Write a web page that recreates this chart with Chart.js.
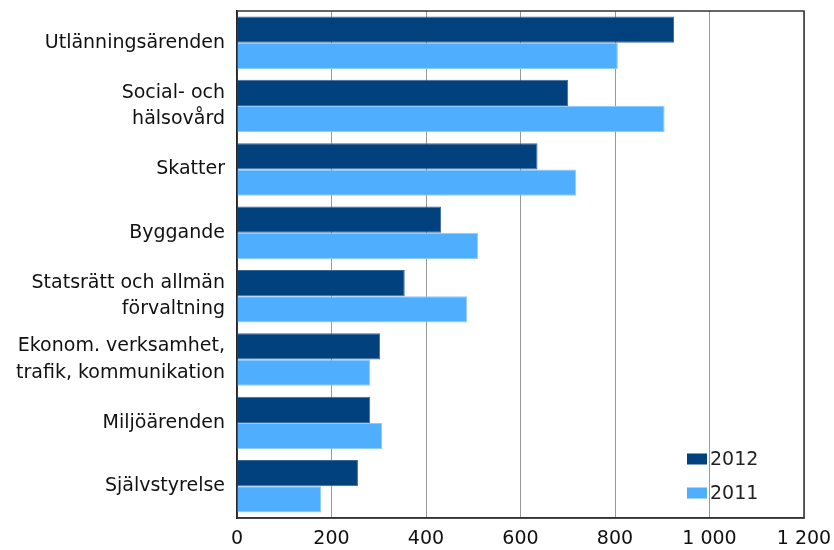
<!DOCTYPE html>
<html>
<head>
<meta charset="utf-8">
<script src="https://cdn.jsdelivr.net/npm/chart.js@4.4.1/dist/chart.umd.min.js"></script>
<style>
    html, body { margin: 0; padding: 0; background: #fff; }
    #wrap { width: 834px; height: 550px; position: relative; }
</style>
</head>
<body>
<div id="wrap"><canvas id="chart"></canvas></div>
<script>
// Ärenden per område, 2012 och 2011
const categories = [
    'Utlänningsärenden',
    ['Social- och', 'hälsovård'],
    'Skatter',
    'Byggande',
    ['Statsrätt och allmän', 'förvaltning'],
    ['Ekonom. verksamhet,', 'trafik, kommunikation'],
    'Miljöärenden',
    'Självstyrelse'
];
const values2012 = [925, 701, 636, 432, 355, 303, 282, 256];
const values2011 = [806, 905, 718, 510, 487, 282, 307, 178];
const xTicks = [0, 200, 400, 600, 800, 1000, 1200];

const FAMILY = '"DejaVu Sans", sans-serif';
const SIZE = 19;

function formatNumber(v) {
    return String(v).replace(/\B(?=(\d{3})+(?!\d))/g, ' ');
}

// legend inside the plot, bottom right, plus the plot frame
const insideLegend = {
    id: 'insideLegend',
    beforeDatasetsDraw(chart) {
        const { ctx, chartArea } = chart;
        ctx.save();
        ctx.strokeStyle = '#333';
        ctx.lineWidth = 1.5;
        ctx.strokeRect(chartArea.left, chartArea.top, chartArea.right - chartArea.left, chartArea.bottom - chartArea.top);
        ctx.restore();
    },
    afterDraw(chart) {
        const { ctx, chartArea } = chart;
        ctx.save();
        ctx.font = `${SIZE}px ${FAMILY}`;
        ctx.textBaseline = 'middle';
        chart.data.datasets.forEach((ds, i) => {
            const x = chartArea.right - 117;
            const y = chartArea.bottom - 59 + i * 34;
            ctx.fillStyle = ds.backgroundColor;
            ctx.fillRect(x, y - 5.5, 20, 11);
            ctx.fillStyle = '#222';
            ctx.fillText(ds.label, x + 23, y + 1);
        });
        ctx.restore();
    }
};

const canvas = document.getElementById('chart');
canvas.getContext('2d').letterSpacing = '0.9px';

new Chart(canvas, {
    type: 'bar',
    data: {
        labels: categories,
        datasets: [
            {
                label: '2012',
                data: values2012,
                backgroundColor: '#00417e',
                borderColor: '#3a6a9a',
                borderWidth: 1,
                categoryPercentage: 0.83,
                barPercentage: 1.0
            },
            {
                label: '2011',
                data: values2011,
                backgroundColor: '#4faefe',
                borderColor: '#8fcbff',
                borderWidth: 1,
                categoryPercentage: 0.83,
                barPercentage: 1.0
            }
        ]
    },
    options: {
        indexAxis: 'y',
        responsive: true,
        maintainAspectRatio: false,
        animation: false,
        layout: { padding: { top: 11, right: 0, bottom: 0, left: 0 } },
        plugins: {
            legend: { display: false },
            tooltip: { enabled: false }
        },
        scales: {
            x: {
                min: 0,
                max: 1200,
                afterBuildTicks(scale) {
                    scale.ticks = xTicks.map(v => ({ value: v }));
                },
                afterFit(scale) {
                    scale.height = 32;
                    scale.paddingRight = 30;
                    scale.paddingLeft = 0;
                },
                ticks: {
                    color: '#111',
                    font: { family: FAMILY, size: SIZE, lineHeight: 1.2 },
                    padding: 10,
                    maxRotation: 0,
                    callback: v => formatNumber(v)
                },
                grid: { color: '#999', lineWidth: 1, drawTicks: false },
                border: { color: '#333', width: 1.5 }
            },
            y: {
                afterFit(scale) {
                    scale.width = 237;
                    scale.paddingTop = 0;
                    scale.paddingBottom = 0;
                },
                ticks: {
                    color: '#111',
                    font: { family: FAMILY, size: SIZE, lineHeight: 1.4 },
                    padding: 12
                },
                grid: { display: false, drawTicks: false },
                border: { color: '#000', width: 1.5 }
            }
        }
    },
    plugins: [insideLegend]
});
</script>
</body>
</html>
